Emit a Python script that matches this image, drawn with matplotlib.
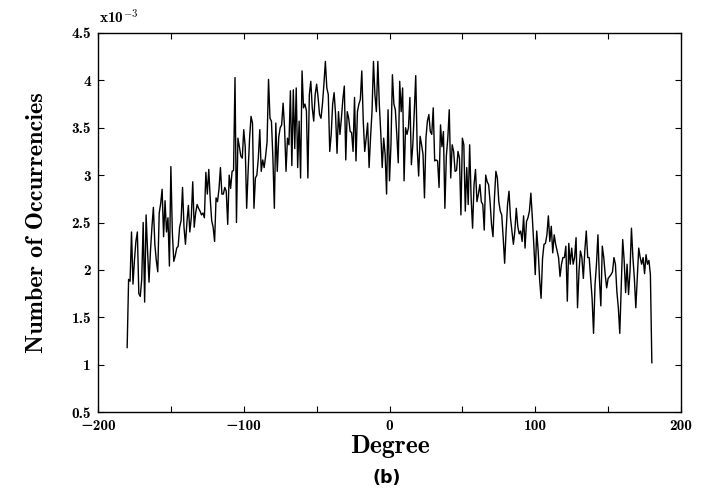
import numpy as np
import matplotlib
matplotlib.use("Agg")
import matplotlib.pyplot as plt
from matplotlib.ticker import MultipleLocator, FuncFormatter

# Histogram of angles, one bin per degree (values in units of 1e-3)
degrees = np.arange(-180, 181)
occurrencies = [
    1.18, 1.90, 1.88, 2.40, 1.85, 2.10, 2.30, 2.40, 1.75, 1.72,  # -180
    1.90, 2.50, 1.66, 2.58, 2.20, 1.87, 2.20, 2.45, 2.66, 2.27,  # -170
    2.10, 1.98, 2.60, 2.70, 2.85, 2.35, 2.73, 2.40, 2.55, 2.04,  # -160
    3.09, 2.40, 2.09, 2.15, 2.23, 2.25, 2.45, 2.52, 2.87, 2.45,  # -150
    2.27, 2.50, 2.68, 2.40, 2.55, 2.93, 2.45, 2.60, 2.69, 2.65,  # -140
    2.62, 2.58, 2.60, 2.55, 3.03, 2.80, 3.06, 2.75, 2.52, 2.45,  # -130
    2.30, 2.76, 2.72, 2.85, 3.08, 2.80, 2.80, 2.87, 2.83, 2.48,  # -120
    3.00, 2.86, 3.04, 3.05, 4.03, 2.50, 3.39, 3.30, 3.20, 3.18,  # -110
    3.48, 3.30, 2.65, 3.04, 3.39, 3.62, 3.55, 2.65, 2.97, 3.00,  # -100
    3.18, 3.48, 3.04, 3.16, 3.08, 3.20, 3.35, 4.01, 3.60, 3.57,  # -90
    3.18, 2.65, 3.55, 3.04, 3.40, 3.50, 3.53, 3.76, 3.50, 3.04,  # -80
    3.39, 3.32, 3.89, 3.10, 3.90, 3.28, 3.92, 3.08, 3.57, 2.97,  # -70
    4.10, 3.71, 3.75, 3.68, 2.97, 3.85, 3.99, 3.71, 3.57, 3.85,  # -60
    3.96, 3.82, 3.64, 3.60, 3.75, 3.96, 4.20, 3.92, 3.85, 3.25,  # -50
    3.43, 3.75, 3.87, 3.64, 3.23, 3.67, 3.43, 3.60, 3.80, 3.94,  # -40
    3.16, 3.67, 3.60, 3.46, 3.45, 3.25, 3.82, 3.15, 3.67, 3.75,  # -30
    3.80, 4.10, 3.57, 3.25, 3.39, 3.55, 3.08, 3.40, 3.67, 4.20,  # -20
    3.85, 3.67, 4.20, 3.75, 3.45, 3.08, 3.39, 3.22, 2.80, 3.69,  # -10
    2.94, 3.32, 4.06, 3.75, 3.69, 3.43, 3.13, 3.99, 3.67, 3.92,  # 0
    2.94, 3.50, 3.43, 3.50, 3.82, 3.11, 3.32, 3.67, 4.05, 3.29,  # 10
    2.99, 3.41, 3.32, 3.22, 2.76, 3.39, 3.57, 3.64, 3.46, 3.43,  # 20
    3.71, 3.15, 3.16, 3.15, 2.87, 3.53, 3.30, 3.46, 2.65, 3.20,  # 30
    3.39, 3.69, 2.97, 3.32, 3.25, 3.04, 3.05, 3.25, 3.18, 2.58,  # 40
    3.39, 3.32, 2.62, 3.08, 2.69, 3.32, 2.76, 2.44, 2.90, 3.06,  # 50
    2.72, 2.80, 2.90, 2.72, 2.69, 2.42, 3.00, 2.93, 2.90, 2.72,  # 60
    2.48, 2.35, 2.76, 3.04, 2.97, 2.72, 2.62, 2.58, 2.34, 2.07,  # 70
    2.41, 2.69, 2.83, 2.55, 2.41, 2.27, 2.41, 2.65, 2.46, 2.38,  # 80
    2.41, 2.30, 2.57, 2.23, 2.51, 2.55, 2.62, 2.81, 2.55, 2.27,  # 90
    1.95, 2.41, 2.20, 1.90, 1.70, 2.12, 2.27, 2.28, 2.37, 2.57,  # 100
    2.30, 2.46, 2.18, 2.37, 2.27, 2.20, 2.13, 1.93, 2.06, 2.13,  # 110
    2.13, 2.25, 1.67, 2.28, 2.06, 2.23, 2.06, 2.13, 2.34, 1.60,  # 120
    1.98, 2.20, 2.13, 1.91, 2.20, 2.41, 2.13, 2.13, 1.91, 1.70,  # 130
    1.33, 1.84, 2.06, 2.37, 1.91, 1.62, 2.25, 2.13, 1.95, 1.81,  # 140
    1.91, 1.93, 1.95, 1.98, 2.13, 2.06, 1.77, 1.60, 1.33, 1.84,  # 150
    2.32, 2.10, 1.76, 2.06, 1.74, 1.98, 2.44, 2.13, 1.91, 1.60,  # 160
    1.91, 2.23, 2.13, 2.06, 2.13, 1.96, 2.16, 2.06, 2.10, 1.95,  # 170
    1.02,                                                        # 180
]

plt.rcParams['font.family'] = ['cmb10', 'DejaVu Serif']
plt.rcParams['axes.unicode_minus'] = True
plt.rcParams['mathtext.fontset'] = 'cm'

fig = plt.figure(figsize=(7.01, 4.91), dpi=100)
ax = fig.add_axes([98 / 701, 79 / 491, 583 / 701, 379 / 491])

ax.plot(degrees, occurrencies, color='black', lw=1.0)

ax.set_xlim(-200, 200)
ax.set_ylim(0.5, 4.5)
ax.xaxis.set_major_locator(MultipleLocator(50))
ax.xaxis.set_major_formatter(FuncFormatter(
    lambda v, p: ('%d' % v).replace('-', '\u2212') if v % 100 == 0 else ''))
ax.yaxis.set_major_locator(MultipleLocator(0.5))
ax.yaxis.set_major_formatter(FuncFormatter(lambda v, p: '%g' % v))
ax.tick_params(direction='in', length=4, width=0.8, top=True, right=True,
               labelsize=11, pad=5)
for s in ax.spines.values():
    s.set_linewidth(1.0)

ax.set_xlabel('Degree', fontsize=18.5, va='top')
ax.xaxis.set_label_coords(0.5, -0.062)
ax.set_ylabel('Number of Occurrencies', fontsize=17.5)
ax.yaxis.set_label_coords(-0.086, 0.5)

fig.text(99 / 701, 1 - 18 / 491, r'x10$^{\mathbf{-3}}$', fontsize=11,
         ha='left', va='center')
fig.text(387 / 701, 1 - 478 / 491, '(b)', fontsize=12.5, fontweight='bold',
         family='DejaVu Sans', ha='center', va='center')

fig.savefig('out.png', dpi=100)
